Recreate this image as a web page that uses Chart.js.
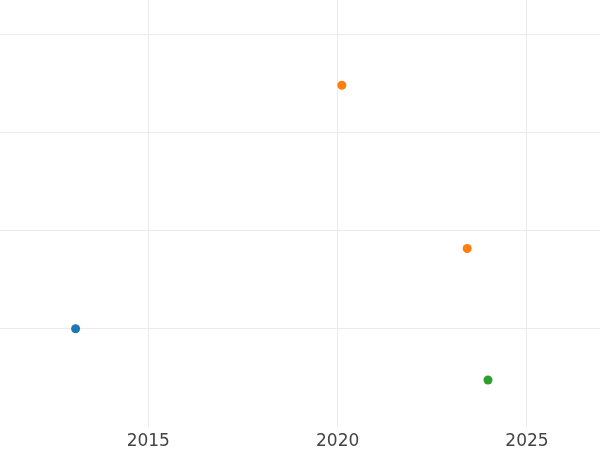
<!DOCTYPE html>
<html>
<head>
<meta charset="utf-8">
<script src="https://cdn.jsdelivr.net/npm/chart.js@4/dist/chart.umd.min.js"></script>
<style>
html,body{margin:0;padding:0;background:#fff;}
#wrap{width:600px;height:450px;}
</style>
</head>
<body>
<div id="wrap"><canvas id="c" width="600" height="450"></canvas></div>
<script>
// Data
const seriesNames = ["A", "B", "C"];
const seriesColors = ["#1f77b4", "#ff7f0e", "#2ca02c"];
const seriesX = [[2013.08], [2020.11, 2023.42], [2023.97]];
const seriesY = [[0.995], [3.48, 1.814], [0.472]];
const xTicks = [2015, 2020, 2025];
const yTicks = [1, 2, 3, 4];

const datasets = seriesNames.map((name, i) => ({
  label: name,
  data: seriesX[i].map((x, j) => ({x: x, y: seriesY[i][j]})),
  backgroundColor: seriesColors[i],
  borderColor: seriesColors[i],
  borderWidth: 0,
  pointRadius: 4.5,
  pointHoverRadius: 4.5
}));

new Chart(document.getElementById('c'), {
  type: 'scatter',
  data: {datasets},
  options: {
    responsive: false,
    animation: false,
    devicePixelRatio: 1,
    layout: {padding: 0, autoPadding: false},
    plugins: {legend: {display: false}, tooltip: {enabled: false}},
    scales: {
      x: {
        type: 'linear',
        min: 2011.084,
        max: 2026.928,
        afterBuildTicks: (s) => { s.ticks = xTicks.map(v => ({value: v})); },
        afterFit: (s) => { s.height = 23.4; },
        ticks: {
          font: {family: 'DejaVu Sans', size: 17},
          color: '#444444',
          padding: 5,
          maxRotation: 0,
          callback: (v) => String(v)
        },
        grid: {color: '#ebebeb', lineWidth: 1, drawTicks: false, tickLength: 0},
        border: {display: false}
      },
      y: {
        type: 'linear',
        min: -0.004,
        max: 4.35,
        afterBuildTicks: (s) => { s.ticks = yTicks.map(v => ({value: v})); },
        ticks: {display: false},
        grid: {color: '#ebebeb', lineWidth: 1, drawTicks: false, tickLength: 0},
        border: {display: false}
      }
    }
  }
});
</script>
</body>
</html>
